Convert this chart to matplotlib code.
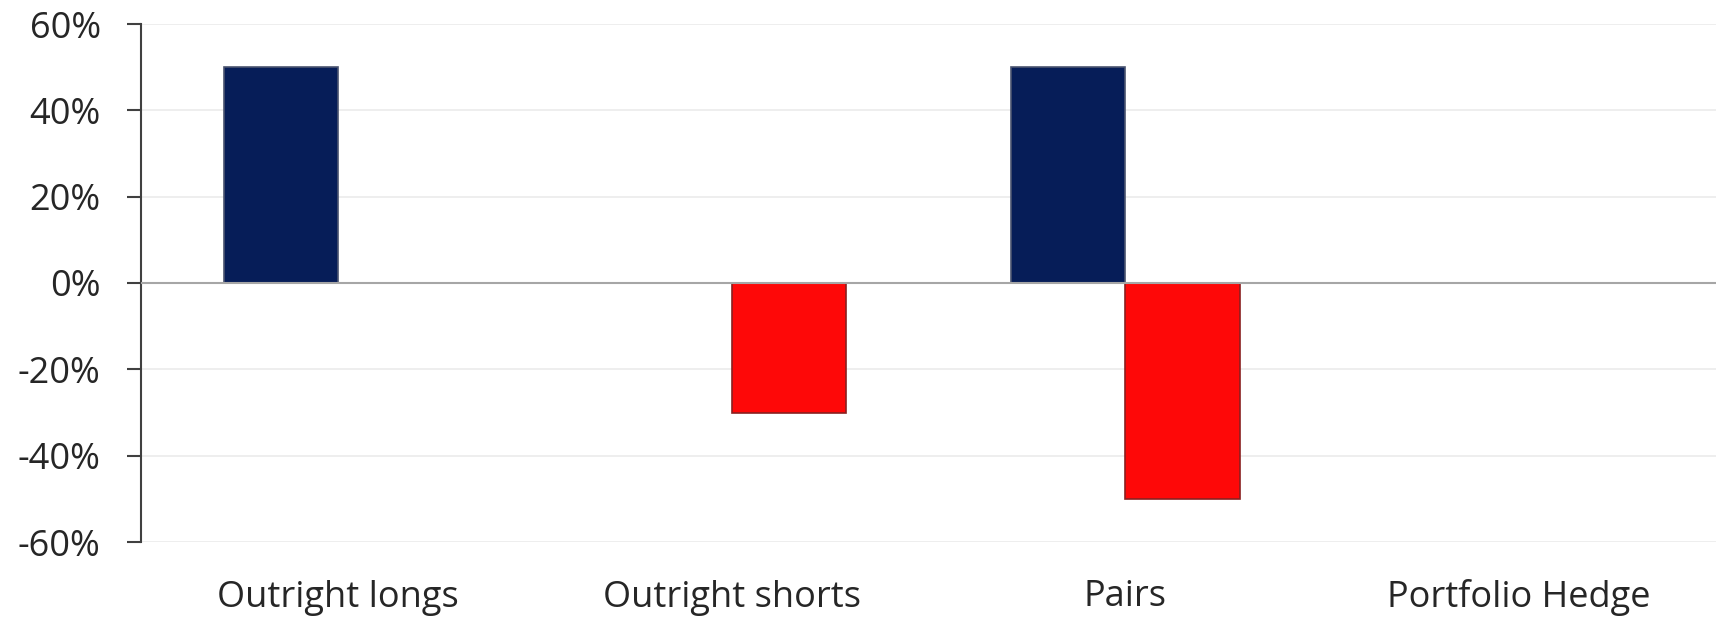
import numpy as np
import matplotlib.pyplot as plt
from matplotlib.ticker import FuncFormatter

categories = ['Outright longs', 'Outright shorts', 'Pairs', 'Portfolio Hedge']
longs = [50, 0, 50, 0]
shorts = [0, -30, -50, 0]
y_ticks = [-60, -40, -20, 0, 20, 40, 60]

plt.rcParams['font.family'] = ['Open Sans', 'DejaVu Sans']

fig = plt.figure(figsize=(17.25, 6.21), dpi=100)
ax = fig.add_axes([141 / 1725, 1 - 542 / 621, (1716 - 141) / 1725, (542 - 24) / 621])

x = np.arange(len(categories))
w = 0.29
ax.bar(x - w / 2, longs, w, color='#061d58', edgecolor='#4a5470',
       linewidth=[1.2 if v else 0 for v in longs], zorder=3)
ax.bar(x + w / 2, shorts, w, color='#fe0808', edgecolor='#8a2020',
       linewidth=[1.2 if v else 0 for v in shorts], zorder=3)

ax.set_xlim(-0.5, len(categories) - 0.5)
ax.set_ylim(-60, 60)
ax.set_yticks(y_ticks)
ax.yaxis.set_major_formatter(FuncFormatter(lambda v, p: f'{v:.0f}%'))
ax.grid(axis='y', color='#ebebeb', linewidth=1.2, zorder=0)
ax.axhline(0, color='#a6a6a6', linewidth=1.5, zorder=4)

for s in ['top', 'right', 'bottom']:
    ax.spines[s].set_visible(False)
ax.spines['left'].set_color('#404040')
ax.spines['left'].set_linewidth(1.5)

ax.set_xticks(x)
ax.set_xticklabels(categories)
ax.tick_params(axis='x', length=0, pad=27, labelsize=26, labelcolor='#262626')
ax.tick_params(axis='y', length=10, width=1.5, color='#404040', pad=19, labelsize=26, labelcolor='#262626')

fig.savefig('out.png', dpi=100)
